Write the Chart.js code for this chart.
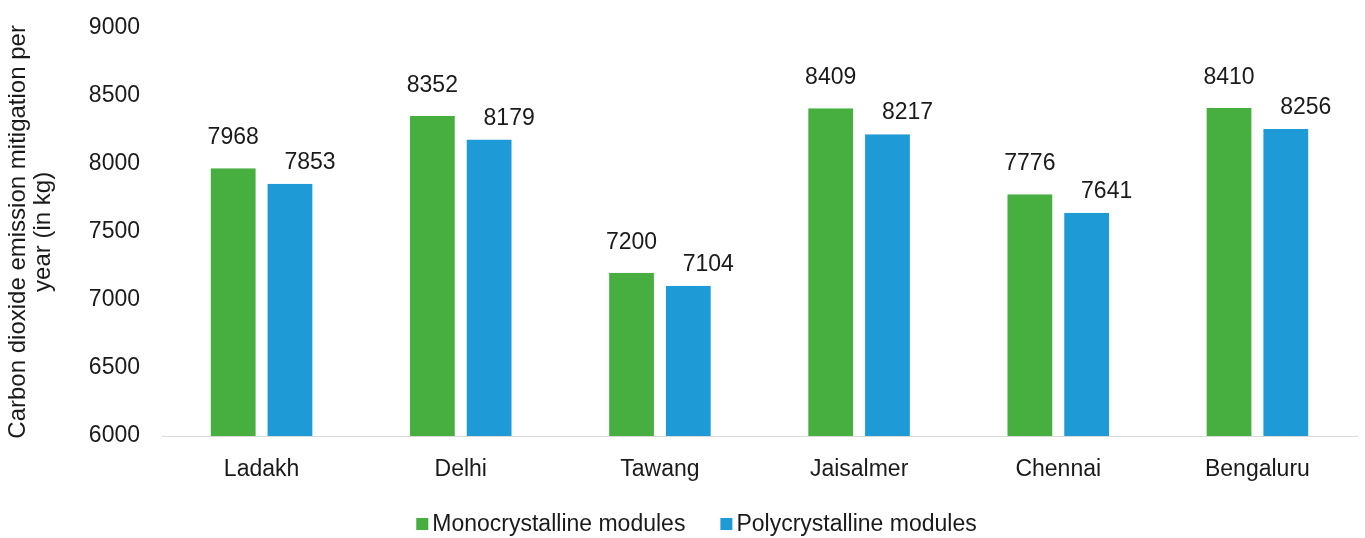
<!DOCTYPE html>
<html>
<head>
<meta charset="utf-8">
<script src="https://cdn.jsdelivr.net/npm/chart.js@4.4.0/dist/chart.umd.min.js"></script>
<style>
  html, body { margin: 0; padding: 0; background: #fff; }
  #wrap { width: 1365px; height: 538px; position: relative; }
</style>
</head>
<body>
<div id="wrap"><canvas id="myChart"></canvas></div>
<script>
const cities = ['Ladakh', 'Delhi', 'Tawang', 'Jaisalmer', 'Chennai', 'Bengaluru'];
const monoValues = [7968, 8352, 7200, 8409, 7776, 8410];
const polyValues = [7853, 8179, 7104, 8217, 7641, 8256];
const yTicks = [6000, 6500, 7000, 7500, 8000, 8500, 9000];

const textColor = '#1a1a1a';
const fontFamily = '"Liberation Sans", Arial, sans-serif';
const fontSize = 23;

// value labels above bars (Excel-style, blue ones sit a bit to the right)
const barLabels = {
    id: 'barLabels',
    afterDatasetsDraw(chart) {
        const ctx = chart.ctx;
        ctx.save();
        ctx.font = fontSize + 'px ' + fontFamily;
        ctx.fillStyle = textColor;
        ctx.textAlign = 'center';
        ctx.textBaseline = 'alphabetic';
        chart.data.datasets.forEach((ds, i) => {
            const meta = chart.getDatasetMeta(i);
            const dx = i === 0 ? 0 : 20;
            const dy = i === 0 ? 24 : 15;
            meta.data.forEach((bar, j) => {
                ctx.fillText(String(ds.data[j]), bar.x + dx, bar.y - dy);
            });
        });
        ctx.restore();
    }
};

// small square-box legend drawn under the axis labels
const bottomLegend = {
    id: 'bottomLegend',
    afterDraw(chart) {
        const ctx = chart.ctx;
        const box = 12, gap = 4, spacing = 35;
        const y = chart.height - 14;
        ctx.save();
        ctx.font = fontSize + 'px ' + fontFamily;
        ctx.textBaseline = 'middle';
        ctx.textAlign = 'left';
        const items = chart.data.datasets.map(ds => ({
            text: ds.label,
            color: ds.backgroundColor,
            w: box + gap + ctx.measureText(ds.label).width
        }));
        const total = items.reduce((s, it) => s + it.w, 0) + spacing * (items.length - 1);
        let x = chart.width / 2 + 14 - total / 2;
        items.forEach(it => {
            ctx.fillStyle = it.color;
            ctx.fillRect(x, y - box / 2, box, box);
            ctx.fillStyle = textColor;
            ctx.fillText(it.text, x + box + gap, y + 1);
            x += it.w + spacing;
        });
        ctx.restore();
    }
};

const ctx = document.getElementById('myChart');

new Chart(ctx, {
    type: 'bar',
    data: {
        labels: cities,
        datasets: [{
            label: 'Monocrystalline modules',
            data: monoValues,
            backgroundColor: '#46af3f',
            borderColor: '#ffffff',
            borderWidth: { top: 0, left: 6, right: 6, bottom: 0 },
            categoryPercentage: 0.57,
            barPercentage: 1.0
        }, {
            label: 'Polycrystalline modules',
            data: polyValues,
            backgroundColor: '#1e9bd7',
            borderColor: '#ffffff',
            borderWidth: { top: 0, left: 6, right: 6, bottom: 0 },
            categoryPercentage: 0.57,
            barPercentage: 1.0
        }]
    },
    options: {
        responsive: true,
        maintainAspectRatio: false,
        animation: false,
        layout: { padding: { top: 0, right: 8, left: 0, bottom: 0 } },
        scales: {
            x: {
                afterFit: (axis) => { axis.height = 102; },
                grid: { display: false },
                border: { display: true, color: '#d9d9d9', width: 1 },
                ticks: {
                    color: textColor,
                    font: { size: fontSize, family: fontFamily },
                    padding: 12
                }
            },
            y: {
                min: 6000,
                max: 9000,
                afterBuildTicks: (axis) => {
                    axis.ticks = yTicks.map(v => ({ value: v }));
                },
                afterFit: (axis) => { axis.width = 162; },
                grid: { display: false },
                border: { display: false },
                ticks: {
                    color: textColor,
                    font: { size: fontSize, family: fontFamily },
                    padding: 14,
                    callback: (v) => String(v)
                },
                title: {
                    display: true,
                    text: ['Carbon dioxide emission mitigation per', 'year (in kg)'],
                    color: textColor,
                    font: { size: 24, family: fontFamily, lineHeight: 1.05 },
                    padding: { top: 6, bottom: 0 }
                }
            }
        },
        plugins: {
            legend: { display: false },
            tooltip: { enabled: false }
        }
    },
    plugins: [barLabels, bottomLegend]
});
</script>
</body>
</html>
